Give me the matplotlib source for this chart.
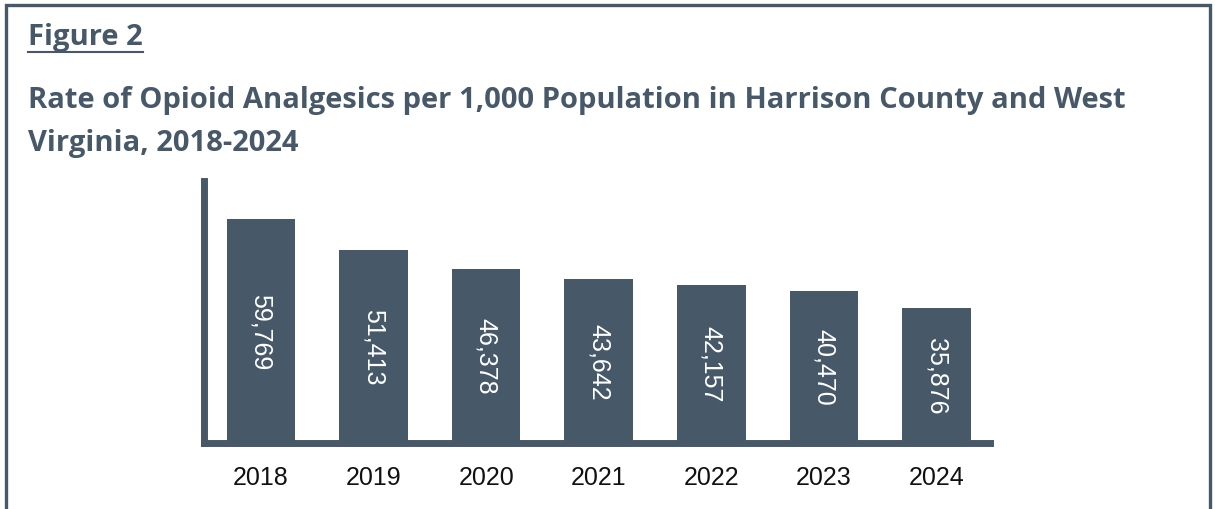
import matplotlib
matplotlib.use("Agg")
import matplotlib.pyplot as plt
from matplotlib.patches import Rectangle
from matplotlib.lines import Line2D

years = ["2018", "2019", "2020", "2021", "2022", "2023", "2024"]
values = [59769, 51413, 46378, 43642, 42157, 40470, 35876]

slate = "#475869"
W, H = 1215, 510

fig = plt.figure(figsize=(W / 100, H / 100), dpi=100)
fig.patch.set_facecolor("white")

# frame around the figure (bottom is cut off in the original)
fig.add_artist(Rectangle((5.5 / W, -0.1), (1210 - 5.5) / W, 1.1 - 5.5 / H,
                         transform=fig.transFigure, fill=False,
                         edgecolor=slate, linewidth=2.4))

# headings
t1 = fig.text(28 / W, 1 - 38 / H, "Figure 2", fontsize=21, fontweight="bold",
              color=slate, family="Open Sans", va="center", ha="left")
fig.text(28 / W, 1 - 101 / H,
         "Rate of Opioid Analgesics per 1,000 Population in Harrison County and West",
         fontsize=21, fontweight="bold", color=slate, family="Open Sans",
         va="center", ha="left")
fig.text(28 / W, 1 - 143 / H, "Virginia, 2018-2024",
         fontsize=21, fontweight="bold", color=slate, family="Open Sans",
         va="center", ha="left")

# underline "Figure 2"
fig.canvas.draw()
bb = t1.get_window_extent().transformed(fig.transFigure.inverted())
fig.add_artist(Line2D([bb.x0, bb.x1], [1 - 53 / H, 1 - 53 / H],
                      transform=fig.transFigure, color=slate, linewidth=1.5))

ax = fig.add_axes([203.5 / W, 1 - 443.5 / H, (989.5 - 203.5) / W, (443.5 - 181.5) / H])
x = list(range(len(years)))
ax.bar(x, values, width=0.61, color=slate, zorder=1)
ax.set_xlim(-0.51, 6.47)
ax.set_ylim(0, 70000)

for xi, v in zip(x, values):
    ax.text(xi, v / 2, f"{v:,}", rotation=-90, ha="center", va="center",
            color="white", fontsize=18, family="Liberation Sans")

ax.set_xticks(x)
ax.set_xticklabels(years, fontsize=18, family="Liberation Sans", color="#111111")
ax.tick_params(axis="x", length=0, pad=16)
ax.set_yticks([])
for s in ["top", "right"]:
    ax.spines[s].set_visible(False)
for s in ["left", "bottom"]:
    ax.spines[s].set_color(slate)
    ax.spines[s].set_linewidth(5.0)
    ax.spines[s].set_capstyle("projecting")
    ax.spines[s].set_zorder(3)

fig.savefig("out.png", dpi=100)
